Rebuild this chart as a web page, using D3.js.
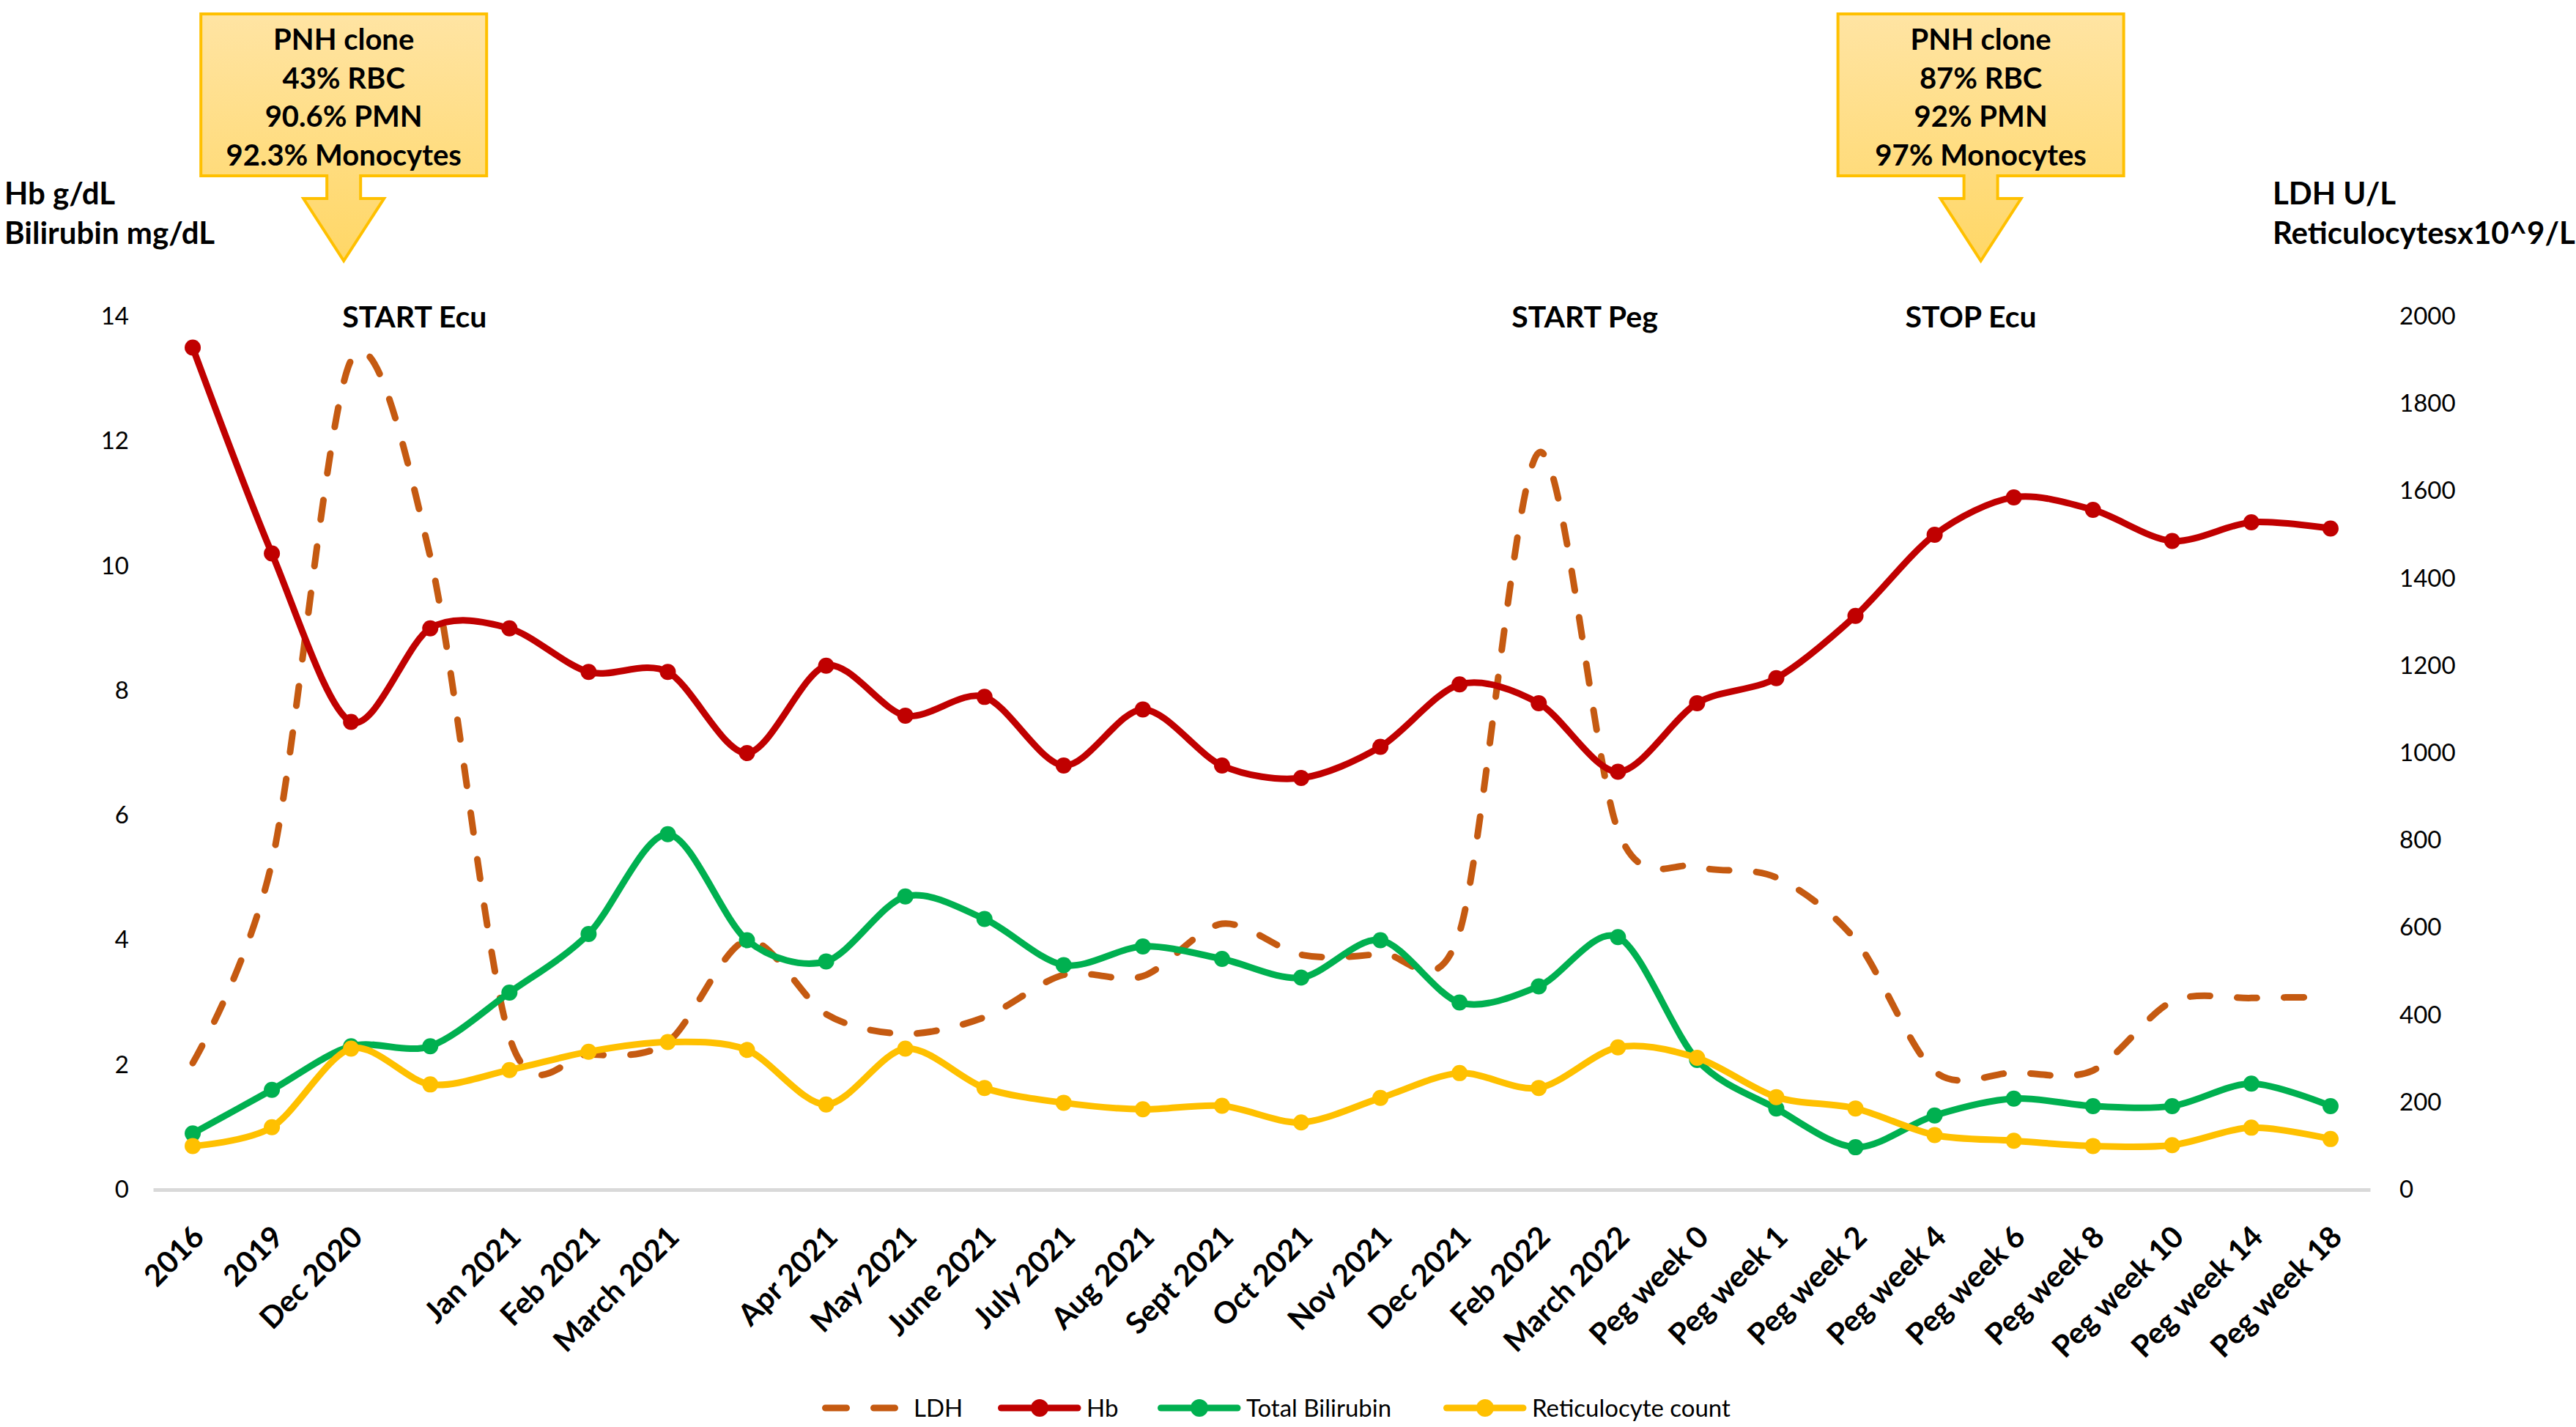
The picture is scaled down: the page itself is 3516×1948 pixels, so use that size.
<!DOCTYPE html>
<html lang="en">
<head>
  <meta charset="UTF-8">
  <title>PNH lab course</title>
  <script src="https://d3js.org/d3.v7.min.js"></script>
  <style>
    body { margin: 0; background: #fff; }
    text { font-family: Lato, "Open Sans", sans-serif; }
  </style>
</head>
<body>
  <script>
    // data
    const categories = ["2016", "2019", "Dec 2020", "", "Jan 2021", "Feb 2021", "March 2021", "",
      "Apr 2021", "May 2021", "June 2021", "July 2021", "Aug 2021", "Sept 2021", "Oct 2021",
      "Nov 2021", "Dec 2021", "Feb 2022", "March 2022", "Peg week 0", "Peg week 1", "Peg week 2",
      "Peg week 4", "Peg week 6", "Peg week 8", "Peg week 10", "Peg week 14", "Peg week 18"];

    const hb = [13.5, 10.2, 7.5, 9.0, 9.0, 8.3, 8.3, 7.0, 8.4, 7.6, 7.9, 6.8, 7.7, 6.8, 6.6,
      7.1, 8.1, 7.8, 6.7, 7.8, 8.2, 9.2, 10.5, 11.1, 10.9, 10.4, 10.7, 10.6];
    const bilirubin = [0.9, 1.6, 2.3, 2.3, 3.16, 4.1, 5.7, 4.0, 3.66, 4.7, 4.34, 3.6, 3.9, 3.7, 3.4,
      4.0, 3.0, 3.26, 4.05, 2.08, 1.3, 0.68, 1.19, 1.46, 1.34, 1.34, 1.7, 1.34];
    const retic = [100, 143, 323, 241, 274, 316, 338, 320, 195, 323, 233, 199, 184, 192, 154,
      210, 267, 233, 326, 302, 212, 186, 125, 112, 100, 102, 142, 116];
    const ldh = [290, 750, 1900, 1450, 350, 310, 338, 571, 402, 357, 395, 492, 489, 609, 538,
      541, 590, 1688, 823, 740, 715, 572, 271, 268, 273, 431, 439, 441];

    const leftTicks = [0, 2, 4, 6, 8, 10, 12, 14];
    const rightTicks = [0, 200, 400, 600, 800, 1000, 1200, 1400, 1600, 1800, 2000];

    const cloneBoxes = [
      { at: 2, lines: ["PNH clone", "43% RBC", "90.6% PMN", "92.3% Monocytes"] },
      { at: 22, lines: ["PNH clone", "87% RBC", "92% PMN", "97% Monocytes"] }
    ];
    const events = [
      { at: 2, label: "START Ecu" },
      { at: 17, label: "START Peg" },
      { at: 22, label: "STOP Ecu" }
    ];

    // layout
    const width = 3516, height = 1948;
    const plotL = 209, plotR = 3235, plotT = 432, plotB = 1624;
    const boxShift = { 2: -10, 22: 63 };      // box centre relative to its category
    const eventShift = { 2: -12, 17: -37, 22: -40 };

    const svg = d3.select("body").append("svg")
      .attr("width", width)
      .attr("height", height);

    const defs = svg.append("defs");
    const grad = defs.append("linearGradient").attr("id", "boxfill")
      .attr("x1", 0).attr("y1", 0).attr("x2", 0).attr("y2", 1);
    grad.append("stop").attr("offset", "0%").attr("stop-color", "#FFE4A3");
    grad.append("stop").attr("offset", "100%").attr("stop-color", "#FFD766");

    // scales
    const x = d3.scaleBand()
      .domain(categories.map((d, i) => i))
      .range([plotL, plotR]);
    const cx = i => x(i) + x.bandwidth() / 2;

    const yL = d3.scaleLinear().domain([0, 14]).range([plotB, plotT]);
    const yR = d3.scaleLinear().domain([0, 2000]).range([plotB, plotT]);

    // axes
    const xAxis = svg.append("g")
      .attr("transform", `translate(0, ${plotB})`)
      .call(d3.axisBottom(x).tickSize(0).tickFormat(i => categories[i]));
    xAxis.select(".domain").attr("stroke", "#D9D9D9").attr("stroke-width", 5);
    xAxis.selectAll("text")
      .attr("font-family", "DejaVu Sans, sans-serif")
      .attr("font-weight", "bold")
      .attr("font-size", 41)
      .attr("fill", "#000")
      .attr("text-anchor", "end")
      .attr("transform", "translate(8, 57) rotate(-45)")
      .attr("dy", "0.35em")
      .attr("y", 0);

    const lAxis = svg.append("g")
      .attr("transform", `translate(${plotL}, 0)`)
      .call(d3.axisLeft(yL).tickValues(leftTicks).tickSize(0).tickPadding(33));
    lAxis.select(".domain").remove();
    lAxis.selectAll("text").attr("font-family", "Lato").attr("font-size", 33).attr("fill", "#000");

    const rAxis = svg.append("g")
      .attr("transform", `translate(${plotR}, 0)`)
      .call(d3.axisRight(yR).tickValues(rightTicks).tickFormat(d3.format("d"))
        .tickSize(0).tickPadding(40));
    rAxis.select(".domain").remove();
    rAxis.selectAll("text").attr("font-family", "Lato").attr("font-size", 33).attr("fill", "#000");

    // axis titles
    [["Hb g/dL", 264], ["Bilirubin mg/dL", 318]].forEach(([t, y]) => {
      svg.append("text").attr("x", 6).attr("y", y).attr("dy", "0.35em")
        .attr("font-size", 42).attr("font-weight", "bold").text(t);
    });
    [["LDH U/L", 264], ["Reticulocytesx10^9/L", 318]].forEach(([t, y]) => {
      svg.append("text").attr("x", 3102).attr("y", y).attr("dy", "0.35em")
        .attr("font-size", 42).attr("font-weight", "bold").text(t);
    });

    // series
    const series = [
      { name: "LDH", values: ldh, y: yR, color: "#C55A11", dash: "27,37", markers: false },
      { name: "Hb", values: hb, y: yL, color: "#C00000", dash: null, markers: true },
      { name: "Total Bilirubin", values: bilirubin, y: yL, color: "#00B050", dash: null, markers: true },
      { name: "Reticulocyte count", values: retic, y: yR, color: "#FFC000", dash: null, markers: true }
    ];

    series.forEach(s => {
      const line = d3.line()
        .x((d, i) => cx(i))
        .y(d => s.y(d))
        .curve(d3.curveCardinal.tension(0.1));
      svg.append("path")
        .datum(s.values)
        .attr("d", line)
        .attr("fill", "none")
        .attr("stroke", s.color)
        .attr("stroke-width", 9)
        .attr("stroke-linecap", "round")
        .attr("stroke-dasharray", s.dash);
      if (s.markers) {
        svg.append("g").selectAll("circle")
          .data(s.values)
          .join("circle")
          .attr("cx", (d, i) => cx(i))
          .attr("cy", d => s.y(d))
          .attr("r", 11)
          .attr("fill", s.color);
      }
    });

    // clone boxes with arrows
    cloneBoxes.forEach(b => {
      const c = cx(b.at) + boxShift[b.at];
      const g = svg.append("g");
      const bw = 390, by = 19, bh = 221;
      g.append("path")
        .attr("d", `M${c - bw / 2},${by} H${c + bw / 2} V${by + bh} H${c + 23} V271 H${c + 55}
                    L${c},356 L${c - 55},271 H${c - 23} V${by + bh} H${c - bw / 2} Z`)
        .attr("fill", "url(#boxfill)")
        .attr("stroke", "#FFC000")
        .attr("stroke-width", 4);
      g.selectAll("text")
        .data(b.lines)
        .join("text")
        .attr("x", c)
        .attr("y", (d, i) => 54 + i * 52.5)
        .attr("dy", "0.35em")
        .attr("text-anchor", "middle")
        .attr("font-size", 40)
        .attr("font-weight", "bold")
        .text(d => d);
    });

    // event labels
    svg.selectAll(".event")
      .data(events)
      .join("text")
      .attr("class", "event")
      .attr("x", d => cx(d.at) + eventShift[d.at])
      .attr("y", 433)
      .attr("dy", "0.35em")
      .attr("font-size", 41)
      .attr("font-weight", "bold")
      .text(d => d.label);

    // legend
    const legendX = [1122, 1362, 1580, 1970];
    const legend = svg.append("g").attr("transform", "translate(0, 1922)");
    series.forEach((s, i) => {
      const lx = legendX[i];
      legend.append("line")
        .attr("x1", lx + 4.5).attr("x2", lx + 109)
        .attr("stroke", s.color)
        .attr("stroke-width", 9)
        .attr("stroke-linecap", "round")
        .attr("stroke-dasharray", s.dash ? "29,37" : null);
      if (s.markers) {
        legend.append("circle").attr("cx", lx + 57).attr("r", 12).attr("fill", s.color);
      }
      legend.append("text")
        .attr("x", lx + (s.dash ? 125 : 121))
        .attr("dy", "0.35em")
        .attr("font-size", 33)
        .text(s.name);
    });
  </script>
</body>
</html>
